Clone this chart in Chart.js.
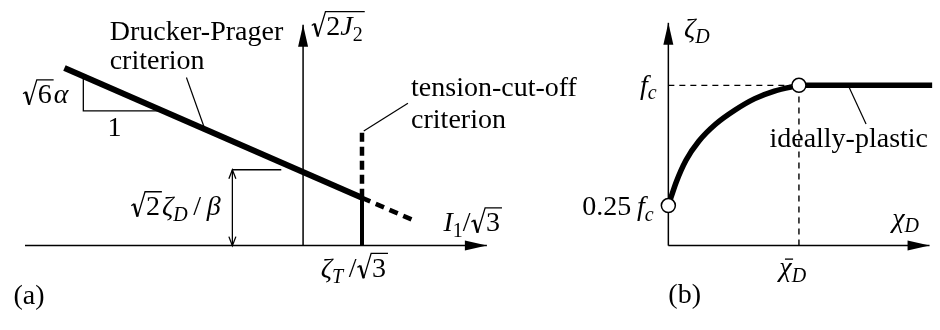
<!DOCTYPE html>
<html>
<head>
<meta charset="utf-8">
<script src="https://cdn.jsdelivr.net/npm/chart.js@4.4.1/dist/chart.umd.min.js"></script>
<style>
html, body { margin: 0; padding: 0; background: #fff; }
#chart { display: block; }
</style>
</head>
<body>
<canvas id="chart" width="940" height="330"></canvas>
<script>
// (a) Drucker-Prager surface with tension cut-off, in I1/sqrt3 vs sqrt(2J2) units
const axisAX = [-4.72, 3.12];
const axisAY = [0, 2.91];
const dpLineX = [-4.05, 1.0];
const dpLineY = [2.34, 0.63];
const dpExtX = [1.0, 1.87];
const dpExtY = [0.63, 0.335];
const cutOffX = 1.0;            // zeta_T / sqrt3
const cutSolidY = [0, 0.63];
const cutDashY = [0.63, 1.51];
const interceptY = 1.0;         // sqrt2 zeta_D / beta
const dimX = -1.2;
const dimTickX = [-1.2, -0.37];
const slopeTriX = [-3.73, -3.73, -2.38];
const slopeTriY = [2.232, 1.775, 1.775];
const leaderDpX = [-1.98, -1.67];
const leaderDpY = [2.216, 1.54];
const leaderCutX = [1.03, 1.78];
const leaderCutY = [1.51, 1.875];

// (b) hardening of zeta_D with chi_D, normalised by f_c and chi_D bar
const axisBX = [0, 2.0];
const axisBY = [0, 1.39];
const chiD = [0, 0.06, 0.135, 0.233, 0.361, 0.511, 0.662, 0.812, 1.0];
const zetaD = [0.25, 0.396, 0.533, 0.651, 0.757, 0.846, 0.917, 0.964, 1.0];
const plateauX = [1.0, 2.02];
const fc = 1.0;
const chiBar = 1.0;
const markerX = [0, 1.0];
const markerY = [0.25, 1.0];
const leaderPlX = [1.383, 1.514];
const leaderPlY = [0.99, 0.759];

// pixel layout of the two panels (origin + pixels per unit)
const W = 940, H = 330;
const panels = {
  a: { ox: 300, oy: 250, kx: 60, ky: 80 },
  b: { ox: 672, oy: 250, kx: 133, ky: 169 }
};
function scaleFor(p, axis) {
  const q = panels[p];
  if (axis === 'x') return { type: 'linear', axis: 'x', display: false, min: -q.ox / q.kx, max: (W - q.ox) / q.kx };
  return { type: 'linear', axis: 'y', display: false, min: -(H - q.oy) / q.ky, max: q.oy / q.ky };
}

const pts = (xs, ys) => xs.map((x, i) => ({ x: x, y: ys[i] }));

function seg(xs, ys, p, width, dash, extra) {
  return Object.assign({
    type: 'line',
    data: pts(xs, ys),
    xAxisID: 'x' + p,
    yAxisID: 'y' + p,
    borderColor: '#000',
    borderWidth: width,
    borderDash: dash || [],
    borderCapStyle: 'butt',
    pointRadius: 0,
    fill: false,
    tension: 0,
    clip: false,
    order: 1
  }, extra || {});
}

const datasets = [
  // open circles on top
  {
    type: 'line', data: pts(markerX, markerY), xAxisID: 'xb', yAxisID: 'yb',
    showLine: false, pointRadius: 7, pointBackgroundColor: '#fff',
    pointBorderColor: '#000', pointBorderWidth: 1.5, clip: false, order: 0
  },
  // panel (a)
  seg(axisAX, [0, 0], 'a', 1.5),
  seg([0, 0], axisAY, 'a', 1.5),
  seg(dpLineX, dpLineY, 'a', 6),
  seg(dpExtX, dpExtY, 'a', 4.5, [9, 6]),
  seg([cutOffX, cutOffX], cutSolidY, 'a', 4),
  seg([cutOffX, cutOffX], cutDashY, 'a', 4.5, [9, 5]),
  seg(slopeTriX, slopeTriY, 'a', 1.3),
  seg(dimTickX, [interceptY, interceptY], 'a', 1.3),
  seg([dimX, dimX], [0, interceptY], 'a', 1.3),
  seg(leaderDpX, leaderDpY, 'a', 1.2),
  seg(leaderCutX, leaderCutY, 'a', 1.2),
  // panel (b)
  seg(axisBX, [0, 0], 'b', 1.5),
  seg([0, 0], axisBY, 'b', 1.5),
  seg([0, chiBar], [fc, fc], 'b', 1.4, [6, 5]),
  seg([chiBar, chiBar], [0, fc], 'b', 1.4, [6, 5]),
  seg(chiD, zetaD, 'b', 5.5, null, { tension: 0.4, cubicInterpolationMode: 'monotone' }),
  seg(plateauX, [fc, fc], 'b', 5.5),
  seg(leaderPlX, leaderPlY, 'b', 1.2)
];

const arrows = [
  { p: 'a', x: axisAX[1], y: 0, dir: 'right', filled: true },
  { p: 'a', x: 0, y: axisAY[1], dir: 'up', filled: true },
  { p: 'b', x: axisBX[1], y: 0, dir: 'right', filled: true },
  { p: 'b', x: 0, y: axisBY[1], dir: 'up', filled: true },
  { p: 'a', x: dimX, y: interceptY, dir: 'up', filled: false },
  { p: 'a', x: dimX, y: 0, dir: 'down', filled: false }
];

// small math-ish text runs
const FONT = '"Liberation Serif", "DejaVu Serif", serif';
const SIZE = 28;
const R = t => ({ t: t });
const I = t => ({ t: t, it: true });
const S = t => ({ t: t, it: true, sub: true });
const Sr = t => ({ t: t, sub: true });
const Bar = t => ({ t: t, it: true, bar: true });
const Root = (...inner) => ({ root: inner });

const labels = [
  { p: 'a', x: -3.283, y: 2.7125, segs: [R('Drucker-Prager')] },
  { p: 'a', x: -3.283, y: 2.325, segs: [R('criterion')] },
  { p: 'a', x: -4.767, y: 1.875, segs: [Root(R('6')), I('α')] },
  { p: 'a', x: -3.2, y: 1.45, segs: [R('1')], align: 'center' },
  { p: 'a', x: -1.4, y: 0.4, segs: [Root(R('2')), I('ζ'), S('D'), R('\u2009/\u2009'), I('β')], align: 'right' },
  { p: 'a', x: 0.3, y: -0.4125, segs: [I('ζ'), S('T'), R('\u2009/'), Root(R('3'))] },
  { p: 'a', x: -4.917, y: -0.775, segs: [R('(a)')] },
  { p: 'a', x: 0.133, y: 2.775, segs: [Root(R('2'), I('J'), Sr('2'))] },
  { p: 'a', x: 2.383, y: 0.1875, segs: [I('I'), Sr('1'), R('/'), Root(R('3'))] },
  { p: 'a', x: 1.833, y: 1.975, segs: [R('tension-cut-off')] },
  { p: 'a', x: 1.833, y: 1.55, segs: [R('criterion')] },
  { p: 'b', x: 0.12, y: 1.302, segs: [I('ζ'), S('D')] },
  { p: 'b', x: -0.09, y: 0.947, segs: [I('f'), S('c')], align: 'right' },
  { p: 'b', x: -0.113, y: 0.189, segs: [R('0.25\u2009'), I('f'), S('c')], align: 'right' },
  { p: 'b', x: 0.774, y: 0.615, segs: [R('ideally-plastic')] },
  { p: 'b', x: 1.714, y: 0.118, segs: [I('χ'), S('D')] },
  { p: 'b', x: 0.85, y: -0.189, segs: [Bar('χ'), S('D')] },
  { p: 'b', x: 0, y: -0.355, segs: [R('(b)')] }
];

function segFont(s, size) {
  const sz = s.sub ? Math.round(size * 0.7) : size;
  return (s.it ? 'italic ' : '') + sz + 'px ' + FONT;
}

function runWidth(ctx, segs, size) {
  let w = 0;
  for (const s of segs) {
    if (s.root) {
      w += size * 0.55 + runWidth(ctx, s.root, size) + 2;
    } else {
      ctx.font = segFont(s, size);
      w += ctx.measureText(s.t).width;
    }
  }
  return w;
}

function drawRadical(ctx, x, y, size, innerW) {
  const s = size;
  const top = y - 0.84 * s;
  ctx.lineCap = 'butt';
  ctx.beginPath();
  ctx.moveTo(x + 0.03 * s, y - 0.34 * s);
  ctx.lineTo(x + 0.13 * s, y - 0.41 * s);
  ctx.lineWidth = 1.3;
  ctx.stroke();
  ctx.beginPath();
  ctx.moveTo(x + 0.13 * s, y - 0.41 * s);
  ctx.lineTo(x + 0.25 * s, y + 0.05 * s);
  ctx.lineWidth = 2.4;
  ctx.stroke();
  ctx.beginPath();
  ctx.moveTo(x + 0.25 * s, y + 0.05 * s);
  ctx.lineTo(x + 0.52 * s, top);
  ctx.lineTo(x + 0.55 * s + innerW + 2, top);
  ctx.lineWidth = 1.3;
  ctx.stroke();
}

function drawRun(ctx, segs, x, y, size) {
  for (const s of segs) {
    if (s.root) {
      const inner = runWidth(ctx, s.root, size);
      drawRadical(ctx, x, y, size, inner);
      drawRun(ctx, s.root, x + size * 0.55, y, size);
      x += size * 0.55 + inner + 2;
      continue;
    }
    ctx.font = segFont(s, size);
    const w = ctx.measureText(s.t).width;
    ctx.fillText(s.t, x, s.sub ? y + size * 0.2 : y);
    if (s.bar) {
      ctx.beginPath();
      ctx.moveTo(x + 0.2 * size, y - 0.6 * size);
      ctx.lineTo(x + w + 0.05 * size, y - 0.6 * size);
      ctx.lineWidth = 1.3;
      ctx.stroke();
    }
    x += w;
  }
}

const diagramPlugin = {
  id: 'diagram',
  beforeDraw(chart) {
    const ctx = chart.ctx;
    ctx.save();
    ctx.fillStyle = '#fff';
    ctx.fillRect(0, 0, chart.width, chart.height);
    ctx.restore();
  },
  afterDatasetsDraw(chart) {
    const ctx = chart.ctx;
    ctx.save();
    ctx.fillStyle = '#000';
    ctx.strokeStyle = '#000';
    for (const a of arrows) {
      const px = chart.scales['x' + a.p].getPixelForValue(a.x);
      const py = chart.scales['y' + a.p].getPixelForValue(a.y);
      const d = { right: [1, 0], up: [0, -1], down: [0, 1] }[a.dir];
      const len = a.filled ? 22 : 9;
      const half = a.filled ? 5 : 3.5;
      const bx = px - d[0] * len, by = py - d[1] * len;
      ctx.beginPath();
      ctx.moveTo(bx - d[1] * half, by + d[0] * half);
      ctx.lineTo(px, py);
      ctx.lineTo(bx + d[1] * half, by - d[0] * half);
      if (a.filled) {
        ctx.closePath();
        ctx.fill();
      } else {
        ctx.lineWidth = 1.3;
        ctx.stroke();
      }
    }
    ctx.restore();
  },
  afterDraw(chart) {
    const ctx = chart.ctx;
    ctx.save();
    ctx.fillStyle = '#000';
    ctx.strokeStyle = '#000';
    ctx.textBaseline = 'alphabetic';
    ctx.textAlign = 'left';
    for (const l of labels) {
      let x = chart.scales['x' + l.p].getPixelForValue(l.x);
      const y = chart.scales['y' + l.p].getPixelForValue(l.y);
      const w = runWidth(ctx, l.segs, SIZE);
      if (l.align === 'right') x -= w;
      else if (l.align === 'center') x -= w / 2;
      drawRun(ctx, l.segs, x, y, SIZE);
    }
    ctx.restore();
  }
};

new Chart(document.getElementById('chart'), {
  type: 'line',
  data: { datasets: datasets },
  options: {
    responsive: false,
    maintainAspectRatio: false,
    devicePixelRatio: 1,
    animation: false,
    layout: { padding: 0 },
    plugins: { legend: { display: false }, tooltip: { enabled: false } },
    scales: {
      xa: scaleFor('a', 'x'),
      ya: scaleFor('a', 'y'),
      xb: scaleFor('b', 'x'),
      yb: scaleFor('b', 'y')
    }
  },
  plugins: [diagramPlugin]
});
</script>
</body>
</html>
